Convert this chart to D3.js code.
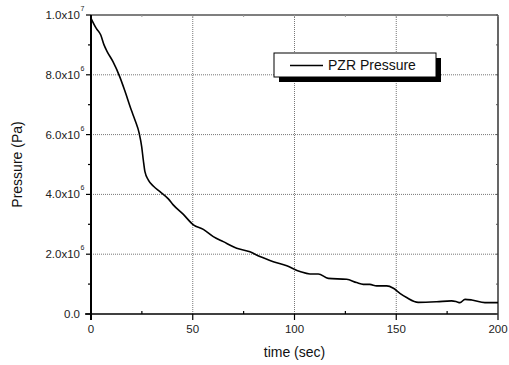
<!DOCTYPE html>
<meta charset="utf-8">
<head>
<style>
  body { margin: 0; background: #fff; }
  svg { display: block; font-family: "Liberation Sans", Arial, sans-serif; }
</style>
</head>
<body>
<script src="https://d3js.org/d3.v7.min.js"></script>
<script>
// data
var timeSec = [0, 2.6, 4.8, 6.4, 8, 10.8, 14.1, 16.5, 19.8, 21.6, 23.7, 24.9, 25.7, 26.5, 28.2, 30.6,
  33.9, 38, 40.4, 45.4, 50.3, 55.2, 60.1, 65, 71.6, 78.1, 83, 89.6, 96.2, 102.7, 107.6, 111.7,
  116.6, 125.6, 130.5, 133.8, 137, 140.4, 145.3, 148.6, 151.8, 155.1, 160.8, 169.9, 177.2, 179.7,
  181.3, 183.8, 187.1, 193.6, 200];
var pzrPressure = [9.89e6, 9.55e6, 9.33e6, 9.0e6, 8.77e6, 8.44e6, 7.94e6, 7.49e6, 6.82e6, 6.49e6,
  6.04e6, 5.6e6, 5.15e6, 4.76e6, 4.48e6, 4.28e6, 4.09e6, 3.85e6, 3.65e6, 3.33e6, 2.98e6, 2.83e6,
  2.59e6, 2.42e6, 2.20e6, 2.08e6, 1.92e6, 1.75e6, 1.61e6, 1.42e6, 1.34e6, 1.34e6, 1.19e6, 1.16e6,
  1.05e6, 0.99e6, 0.99e6, 0.94e6, 0.94e6, 0.86e6, 0.69e6, 0.55e6, 0.39e6, 0.41e6, 0.44e6, 0.41e6,
  0.38e6, 0.49e6, 0.47e6, 0.38e6, 0.38e6];
var xTicks = [0, 50, 100, 150, 200];
var xMinor = [25, 75, 125, 175];
var yTicks = [0, 2e6, 4e6, 6e6, 8e6, 1e7];
var yLabels = [["0.0", ""], ["2.0x10", "6"], ["4.0x10", "6"], ["6.0x10", "6"], ["8.0x10", "6"], ["1.0x10", "7"]];
var yMinor = [1e6, 3e6, 5e6, 7e6, 9e6];
var seriesName = "PZR Pressure";

var W = 509, H = 365;
var margin = {top: 15, right: 11, bottom: 51, left: 91};
var width = W - margin.left - margin.right,
    height = H - margin.top - margin.bottom;

var svg = d3.select("body").append("svg")
    .attr("width", W).attr("height", H);
svg.append("rect").attr("width", W).attr("height", H).attr("fill", "#fff");
var g = svg.append("g")
    .attr("transform", "translate(" + margin.left + "," + margin.top + ")");

var x = d3.scaleLinear().domain([0, 200]).range([0, width]);
var y = d3.scaleLinear().domain([0, 1e7]).range([height, 0]);

// grid
g.selectAll(".gx").data(xTicks.slice(1, -1)).join("line")
    .attr("x1", d => x(d)).attr("x2", d => x(d))
    .attr("y1", 0).attr("y2", height)
    .attr("stroke", "#777").attr("stroke-width", 1).attr("stroke-dasharray", "1,1");
g.selectAll(".gy").data(yTicks.slice(1, -1)).join("line")
    .attr("x1", 0).attr("x2", width)
    .attr("y1", d => y(d)).attr("y2", d => y(d))
    .attr("stroke", "#777").attr("stroke-width", 1).attr("stroke-dasharray", "1,1");

// curve
var pts = timeSec.map((t, i) => [t, pzrPressure[i]]);
g.append("path").datum(pts)
    .attr("fill", "none").attr("stroke", "#000").attr("stroke-width", 1.6)
    .attr("stroke-linejoin", "round")
    .attr("d", d3.line().x(d => x(d[0])).y(d => y(d[1])).curve(d3.curveMonotoneX));

// frame
g.append("line").attr("x1", 0).attr("x2", width).attr("y1", 0).attr("y2", 0)
    .attr("stroke", "#000").attr("stroke-width", 1.2);
g.append("line").attr("x1", width).attr("x2", width).attr("y1", 0).attr("y2", height)
    .attr("stroke", "#000").attr("stroke-width", 1.2);

// bottom axis
var xAxis = g.append("g").attr("transform", "translate(0," + height + ")");
xAxis.append("line").attr("x1", -6).attr("x2", width).attr("stroke", "#000").attr("stroke-width", 1.6);
xAxis.selectAll(".mj").data(xTicks).join("line")
    .attr("x1", d => x(d)).attr("x2", d => x(d)).attr("y1", 0).attr("y2", 6)
    .attr("stroke", "#000").attr("stroke-width", 1.2);
xAxis.selectAll(".mn").data(xMinor).join("line")
    .attr("x1", d => x(d)).attr("x2", d => x(d)).attr("y1", 0).attr("y2", -3)
    .attr("stroke", "#000").attr("stroke-width", 1.2);
xAxis.selectAll("text").data(xTicks).join("text")
    .attr("x", d => x(d)).attr("y", 19).attr("text-anchor", "middle")
    .attr("font-size", 11.5).attr("fill", "#222").text(d => d);

// top minor ticks
g.selectAll(".tt").data(xTicks.concat(xMinor)).join("line")
    .attr("x1", d => x(d)).attr("x2", d => x(d)).attr("y1", 0).attr("y2", 2)
    .attr("stroke", "#999").attr("stroke-width", 1);

// left axis
var yAxis = g.append("g");
yAxis.append("line").attr("y1", 0).attr("y2", height + 6).attr("stroke", "#000").attr("stroke-width", 2);
yAxis.selectAll(".mj").data(yTicks).join("line")
    .attr("x1", -5).attr("x2", 0).attr("y1", d => y(d)).attr("y2", d => y(d))
    .attr("stroke", "#000").attr("stroke-width", 1.2);
yAxis.selectAll(".mn").data(yMinor).join("line")
    .attr("x1", -3).attr("x2", 0).attr("y1", d => y(d)).attr("y2", d => y(d))
    .attr("stroke", "#000").attr("stroke-width", 1.2);
var yl = yAxis.selectAll(".lab").data(yTicks).join("g");
yl.append("text")
    .attr("x", -11).attr("y", d => y(d)).attr("dy", "0.35em").attr("text-anchor", "end")
    .attr("font-size", 11.5).attr("fill", "#222").text((d, i) => yLabels[i][0]);
yl.append("text")
    .attr("x", -10.5).attr("y", d => y(d) - 4).attr("text-anchor", "start")
    .attr("font-size", 7).attr("fill", "#222").text((d, i) => yLabels[i][1]);

// right axis ticks
g.selectAll(".rt").data(yTicks.concat(yMinor)).join("line")
    .attr("x1", width - 2).attr("x2", width).attr("y1", d => y(d)).attr("y2", d => y(d))
    .attr("stroke", "#555").attr("stroke-width", 1);

// titles
svg.append("text")
    .attr("x", margin.left + width / 2).attr("y", 357).attr("text-anchor", "middle")
    .attr("font-size", 14).attr("fill", "#111").text("time (sec)");
svg.append("text")
    .attr("transform", "translate(22," + (margin.top + height / 2) + ") rotate(-90)")
    .attr("text-anchor", "middle")
    .attr("font-size", 14).attr("fill", "#111").text("Pressure (Pa)");

// legend
var lg = svg.append("g").attr("transform", "translate(274,53)");
lg.append("rect").attr("x", 5).attr("y", 5).attr("width", 162).attr("height", 24).attr("fill", "#000");
lg.append("rect").attr("x", 0).attr("y", 0).attr("width", 162).attr("height", 24)
    .attr("fill", "#fff").attr("stroke", "#000").attr("stroke-width", 1);
lg.append("line").attr("x1", 16).attr("x2", 49).attr("y1", 12.5).attr("y2", 12.5)
    .attr("stroke", "#000").attr("stroke-width", 1.5);
lg.append("text").attr("x", 54).attr("y", 12).attr("dy", "0.35em")
    .attr("font-size", 14).attr("fill", "#111").text(seriesName);
</script>
</body>
